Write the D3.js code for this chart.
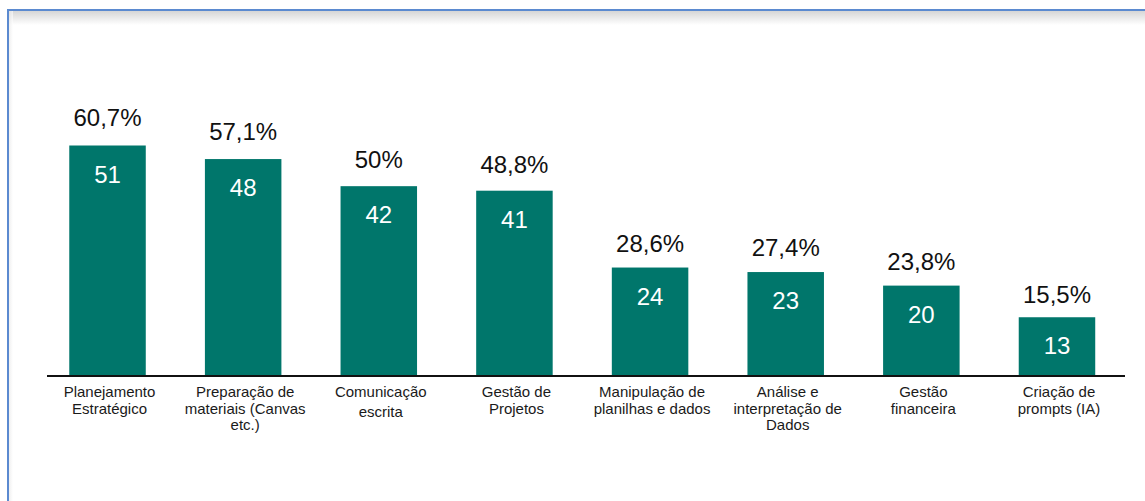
<!DOCTYPE html>
<html>
<head>
<meta charset="utf-8">
<script src="https://cdn.jsdelivr.net/npm/d3@7"></script>
<style>
  html, body { margin: 0; padding: 0; background: #ffffff; }
  svg { display: block; }
  text { font-family: "Liberation Sans", Arial, sans-serif; }
</style>
</head>
<body>
<svg id="chart" width="1145" height="501"></svg>
<script>
// Categories (line breaks marked with "\n")
const categories = [
  "Planejamento\nEstratégico",
  "Preparação de\nmateriais (Canvas\netc.)",
  "Comunicação\nescrita",
  "Gestão de\nProjetos",
  "Manipulação de\nplanilhas e dados",
  "Análise e\ninterpretação de\nDados",
  "Gestão\nfinanceira",
  "Criação de\nprompts (IA)"
];
// Number of respondents per skill
const counts = [51, 48, 42, 41, 24, 23, 20, 13];
// Share of respondents (%)
const percents = [60.7, 57.1, 50, 48.8, 28.6, 27.4, 23.8, 15.5];
const percentLabels = ["60,7%", "57,1%", "50%", "48,8%", "28,6%", "27,4%", "23,8%", "15,5%"];

const svg = d3.select("#chart");
const W = 1145, H = 501;

// Frame with a soft shadow under the top edge
const defs = svg.append("defs");
const grad = defs.append("linearGradient")
  .attr("id", "topShade").attr("x1", 0).attr("y1", 0).attr("x2", 0).attr("y2", 1);
grad.append("stop").attr("offset", "0%").attr("stop-color", "#d6d6d6");
grad.append("stop").attr("offset", "100%").attr("stop-color", "#ffffff");
const gradL = defs.append("linearGradient")
  .attr("id", "leftShade").attr("x1", 0).attr("y1", 0).attr("x2", 1).attr("y2", 0);
gradL.append("stop").attr("offset", "0%").attr("stop-color", "#e6e6e6");
gradL.append("stop").attr("offset", "100%").attr("stop-color", "#ffffff");

svg.append("rect").attr("x", 9).attr("y", 11).attr("width", W - 9).attr("height", 14)
  .attr("fill", "url(#topShade)");
svg.append("rect").attr("x", 9).attr("y", 11).attr("width", 4).attr("height", H - 11)
  .attr("fill", "url(#leftShade)").attr("opacity", 0.6);
svg.append("path")
  .attr("d", `M8,${H} L8,10 L${W},10`)
  .attr("fill", "none").attr("stroke", "#5b8ad0").attr("stroke-width", 2);

// Scales
const x = d3.scaleBand()
  .domain(categories)
  .range([39.7, 1124.8])
  .paddingInner(0.436)
  .paddingOuter(0.218);

const y = d3.scaleLinear().domain([0, 51]).range([376, 145.5]);
// Percentage labels follow their own scale
const yPct = d3.scaleLinear().domain([0, 60.7]).range([363.7, 126]);

const data = categories.map((c, i) => ({
  cat: c, count: counts[i], pct: percents[i], pctLabel: percentLabels[i]
}));

// Bars
svg.append("g").selectAll("rect").data(data).join("rect")
  .attr("x", d => x(d.cat))
  .attr("y", d => y(d.count))
  .attr("width", x.bandwidth())
  .attr("height", d => y(0) - y(d.count))
  .attr("fill", "#00766b");

// Counts inside the bars
svg.append("g").selectAll("text").data(data).join("text")
  .attr("x", d => x(d.cat) + x.bandwidth() / 2)
  .attr("y", d => y(d.count) + 37)
  .attr("text-anchor", "middle")
  .attr("font-size", 24)
  .attr("fill", "#ffffff")
  .text(d => d.count);

// Percentages above the bars
svg.append("g").selectAll("text").data(data).join("text")
  .attr("x", d => x(d.cat) + x.bandwidth() / 2)
  .attr("y", d => yPct(d.pct))
  .attr("text-anchor", "middle")
  .attr("font-size", 24)
  .attr("fill", "#111111")
  .text(d => d.pctLabel);

// Category axis
const xAxis = d3.axisBottom(x).tickSize(0).tickPadding(0).tickFormat("");
const axisG = svg.append("g").attr("transform", "translate(0,376)").call(xAxis);
axisG.select(".domain").remove();
svg.append("line")
  .attr("x1", 47).attr("x2", 1125).attr("y1", 376).attr("y2", 376)
  .attr("stroke", "#111111").attr("stroke-width", 2);

// Wrapped category labels
const labels = svg.append("g").selectAll("text").data(data).join("text")
  .attr("x", d => x(d.cat) + x.bandwidth() / 2 + 2)
  .attr("y", 397)
  .attr("text-anchor", "middle")
  .attr("font-size", 15)
  .attr("fill", "#1a1a1a");
labels.each(function (d) {
  const lines = d.cat.split("\n");
  const gap = d.cat.startsWith("Comunicação") ? 20 : 16.5;
  const t = d3.select(this);
  lines.forEach((ln, j) => {
    t.append("tspan")
      .attr("x", x(d.cat) + x.bandwidth() / 2 + 2)
      .attr("dy", j === 0 ? 0 : gap)
      .text(ln);
  });
});
</script>
</body>
</html>
